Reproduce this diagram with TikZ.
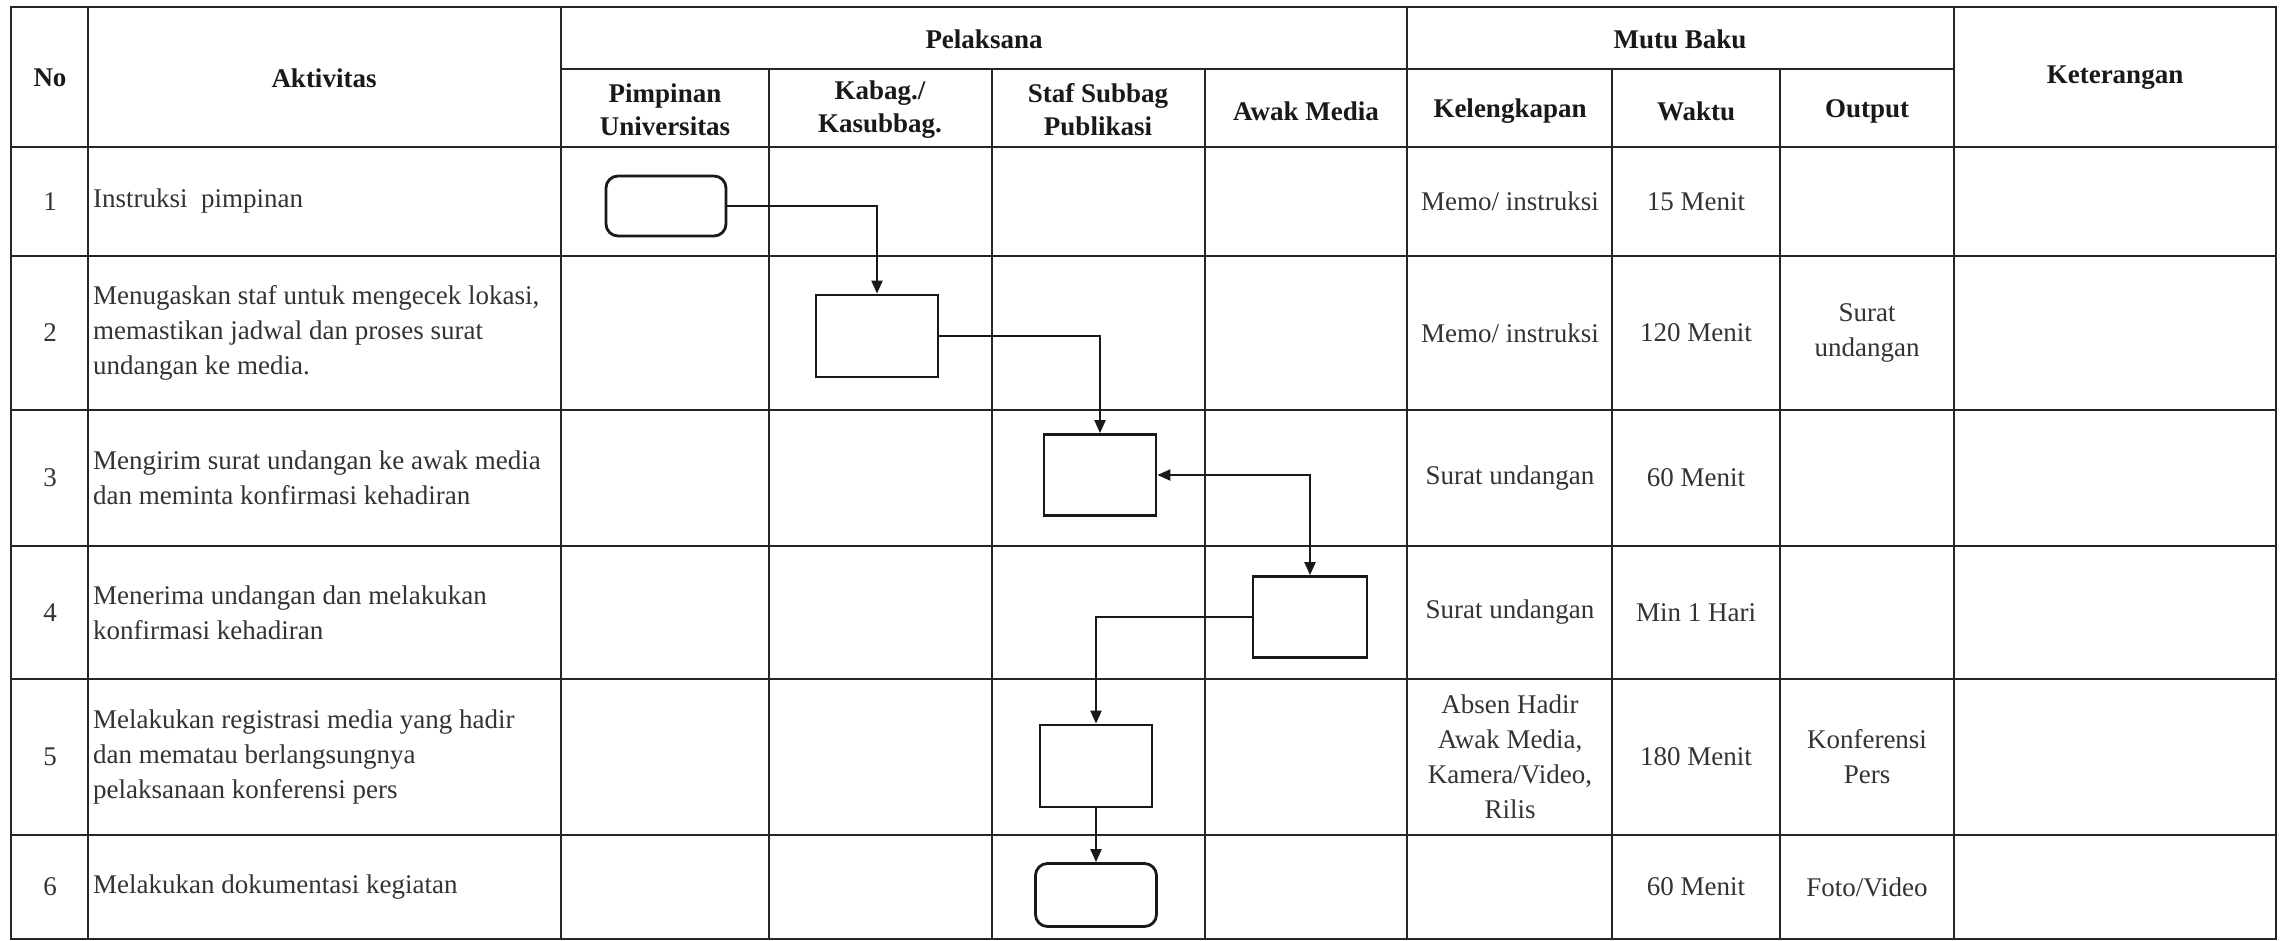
\documentclass[tikz,border=0pt]{standalone}
\usepackage{fontspec}
\setmainfont{Liberation Serif}
\usetikzlibrary{arrows.meta}
\begin{document}
\begin{tikzpicture}[x=1pt,y=-1pt,
  grid/.style={line width=2.2pt, black!85},
  hdr/.style={font=\fontsize{27}{33}\selectfont\bfseries, align=center, inner sep=0pt, text=black!90},
  cell/.style={font=\fontsize{27}{35}\selectfont, align=center, inner sep=0pt, text=black!80},
  act/.style={font=\fontsize{27}{35}\selectfont, align=left, anchor=west, inner sep=0pt, text=black!80},
  proc/.style={draw=black!90, line width=2.8pt, inner sep=0pt, fill=white},
  term/.style={proc, rounded corners=12pt},
  flow/.style={line width=2.2pt, draw=black!90, -{Triangle[length=13pt,width=11pt]}},
  flowboth/.style={line width=2.2pt, draw=black!90, {Triangle[length=13pt,width=11pt]}-{Triangle[length=13pt,width=11pt]}}
]
\useasboundingbox (0,0) rectangle (2283,941);
\fill[white] (0,0) rectangle (2283,941);

% table grid
\draw[grid] (11,7) rectangle (2276,939);
\foreach \yy in {147,256,410,546,679,835} \draw[grid] (11,\yy) -- (2276,\yy);
\draw[grid] (561,69) -- (1954,69);
\foreach \xx in {88,561,1407,1954} \draw[grid] (\xx,7) -- (\xx,939);
\foreach \xx in {769,992,1205,1612,1780} \draw[grid] (\xx,69) -- (\xx,939);

% headers
\node[hdr] (hNo) at (50,78) {No};
\node[hdr] (hAkt) at (324,78) {Aktivitas};
\node[hdr] (hPel) at (984,39) {Pelaksana};
\node[hdr] (hMutu) at (1680,39) {Mutu Baku};
\node[hdr] (hKet) at (2115,78) {Keterangan};
\node[hdr] (hPim) at (665,110) {Pimpinan\\Universitas};
\node[hdr] (hKab) at (880,110) {Kabag./\\Kasubbag.};
\node[hdr] (hStaf) at (1098,110) {Staf Subbag\\Publikasi};
\node[hdr] (hAwak) at (1306,111) {Awak Media};
\node[hdr] (hKel) at (1510,111) {Kelengkapan};
\node[hdr] (hWak) at (1696,111) {Waktu};
\node[hdr] (hOut) at (1867,111) {Output};

% numbers
\node[cell] (n1) at (50,201.5) {1};
\node[cell] (n2) at (50,333) {2};
\node[cell] (n3) at (50,478) {3};
\node[cell] (n4) at (50,612.5) {4};
\node[cell] (n5) at (50,757) {5};
\node[cell] (n6) at (50,887) {6};

% activities
\node[act] (a1) at (93,201.5) {Instruksi\ \ pimpinan};
\node[act] (a2) at (93,333) {Menugaskan staf untuk mengecek lokasi,\\memastikan jadwal dan proses surat\\undangan ke media.};
\node[act] (a3) at (93,478) {Mengirim surat undangan ke awak media\\dan meminta konfirmasi kehadiran};
\node[act] (a4) at (93,612.5) {Menerima undangan dan melakukan\\konfirmasi kehadiran};
\node[act] (a5) at (93,757) {Melakukan registrasi media yang hadir\\dan mematau berlangsungnya\\pelaksanaan konferensi pers};
\node[act] (a6) at (93,887) {Melakukan dokumentasi kegiatan};

% kelengkapan
\node[cell] (k1) at (1510,201.5) {Memo/ instruksi};
\node[cell] (k2) at (1510,333) {Memo/ instruksi};
\node[cell] (k3) at (1510,478) {Surat undangan};
\node[cell] (k4) at (1510,612.5) {Surat undangan};
\node[cell] (k5) at (1510,757) {Absen Hadir\\Awak Media,\\Kamera/Video,\\Rilis};

% waktu
\node[cell] (w1) at (1696,201.5) {15 Menit};
\node[cell] (w2) at (1696,333) {120 Menit};
\node[cell] (w3) at (1696,478) {60 Menit};
\node[cell] (w4) at (1696,612.5) {Min 1 Hari};
\node[cell] (w5) at (1696,757) {180 Menit};
\node[cell] (w6) at (1696,887) {60 Menit};

% output
\node[cell] (o2) at (1867,333) {Surat\\undangan};
\node[cell] (o5) at (1867,757) {Konferensi\\Pers};
\node[cell] (o6) at (1867,887) {Foto/Video};

% flow boxes
\node[term, minimum width=120pt, minimum height=60pt] (b1) at (666,206) {};
\node[proc, minimum width=122pt, minimum height=82pt] (b2) at (877,336) {};
\node[proc, minimum width=112pt, minimum height=81pt] (b3) at (1100,475) {};
\node[proc, minimum width=114pt, minimum height=81pt] (b4) at (1310,617) {};
\node[proc, minimum width=112pt, minimum height=82pt] (b5) at (1096,766) {};
\node[term, minimum width=121pt, minimum height=63pt] (b6) at (1096,895) {};

% connectors
\draw[flow] (b1.east) -| (b2.north);
\draw[flow] (b2.east) -| (b3.north);
\draw[flowboth] (b3.east) -| (b4.north);
\draw[flow] (b4.west) -| (b5.north);
\draw[flow] (b5.south) -- (b6.north);
\end{tikzpicture}
\end{document}
